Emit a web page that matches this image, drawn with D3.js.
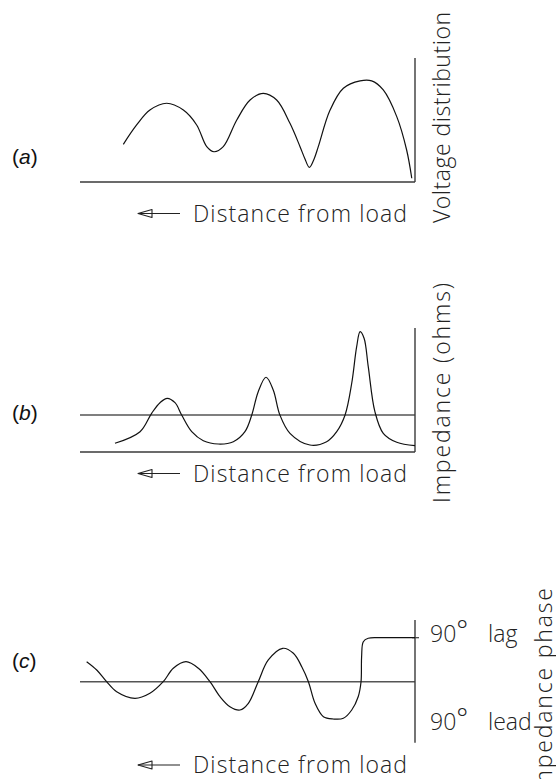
<!DOCTYPE html>
<html>
<head>
<meta charset="utf-8">
<script src="https://cdn.jsdelivr.net/npm/d3@7"></script>
<style>
  html, body { margin: 0; padding: 0; background: #fff; }
  svg { display: block; }
  .lbl { font-family: "Open Sans", "DejaVu Sans", sans-serif; font-weight: 300; fill: #222; }
  .tag { font-family: "Liberation Sans", Arial, sans-serif; fill: #111; }
</style>
</head>
<body>
<svg id="chart" width="556" height="779"></svg>
<script>
// Distance from the load, in wavelengths (load at 0, increasing to the left)
const distanceMax = 1.763;

// (a) voltage standing-wave magnitude (normalised)
const voltageDist = [0.017, 0.044, 0.096, 0.167, 0.228, 0.289, 0.377, 0.447, 0.509, 0.530, 0.556, 0.580, 0.605, 0.658, 0.728, 0.798, 0.868, 0.938, 1.009, 1.058, 1.096, 1.149, 1.219, 1.307, 1.395, 1.465, 1.535];
const voltageVal  = [0.030, 0.258, 0.527, 0.742, 0.815, 0.815, 0.756, 0.580, 0.285, 0.190, 0.118, 0.190, 0.285, 0.473, 0.661, 0.715, 0.661, 0.500, 0.285, 0.244, 0.285, 0.460, 0.580, 0.635, 0.580, 0.460, 0.304];

// (b) impedance magnitude, normalised to the characteristic impedance (reference = 1)
const impedanceDist = [0, 0.096, 0.167, 0.211, 0.246, 0.268, 0.289, 0.307, 0.333, 0.368, 0.412, 0.465, 0.553, 0.658, 0.711, 0.746, 0.784, 0.825, 0.859, 0.895, 0.956, 1.035, 1.114, 1.175, 1.228, 1.263, 1.304, 1.342, 1.386, 1.447, 1.579];
const impedanceVal  = [0.170, 0.262, 0.505, 1.089, 2.305, 3.073, 3.251, 2.846, 1.857, 1.000, 0.549, 0.278, 0.189, 0.505, 1.000, 1.676, 2.019, 1.630, 1.000, 0.549, 0.278, 0.216, 0.305, 0.549, 1.000, 1.332, 1.451, 1.332, 1.046, 0.549, 0.235];
const impedanceRef = 1;
const impedanceTop = 3.35;

// (c) impedance phase angle, degrees (+ = lag, − = lead)
const phaseDist = [0, 0.184, 0.246, 0.272, 0.281, 0.284, 0.299, 0.333, 0.377, 0.430, 0.482, 0.526, 0.561, 0.596, 0.640, 0.696, 0.772, 0.825, 0.877, 0.921, 0.974, 1.026, 1.079, 1.140, 1.205, 1.272, 1.325, 1.395, 1.474, 1.570, 1.623, 1.675, 1.728];
const phaseVal  = [90, 90, 88.8, 81.8, 51.1, 0, -30.7, -57.9, -74.9, -76.3, -71.6, -44.2, 0, 30.7, 58.1, 68.3, 44.4, 0, -44.2, -57.9, -51.1, -30.7, 0, 27.4, 40.9, 27.4, 0, -23.7, -34, -20.5, 0, 23.9, 40.9];
const phaseAxisExtent = [-125, 126];

const panelTags = ["a", "b", "c"];
const xTitle = "Distance from load";
const yTitles = ["Voltage distribution", "Impedance (ohms)", "Impedance phase"];
const phaseTicks = [{ deg: 90, text: "lag" }, { deg: -90, text: "lead" }];

const svg = d3.select("#chart");
const AXIS = "#3a3a3a";
const CURVE = "#111";

const x = d3.scaleLinear().domain([distanceMax, 0]).range([80, 415]);

const yV = d3.scaleLinear().domain([0, 1]).range([182, 58]);
const yZ = d3.scaleLinear().domain([0, impedanceTop]).range([452, 328]);
const yP = d3.scaleLinear().domain([-90, 90]).range([725.7, 637.7]);

const lineGen = ys => d3.line()
  .x(d => x(d[0]))
  .y(d => ys(d[1]))
  .curve(d3.curveCatmullRom.alpha(0.5));

function hline(y0, color, w) {
  svg.append("line")
    .attr("x1", x(distanceMax)).attr("x2", x(0))
    .attr("y1", y0).attr("y2", y0)
    .attr("stroke", color).attr("stroke-width", w);
}
function vline(xv, ya, yb) {
  svg.append("line")
    .attr("x1", xv).attr("x2", xv)
    .attr("y1", ya).attr("y2", yb)
    .attr("stroke", AXIS).attr("stroke-width", 1.4);
}
function curve(dist, vals, ys) {
  svg.append("path")
    .datum(d3.zip(dist, vals))
    .attr("d", lineGen(ys))
    .attr("fill", "none")
    .attr("stroke", CURVE)
    .attr("stroke-width", 1.2)
    .attr("stroke-linejoin", "round");
}
// "<— Distance from load" caption under each panel
function distanceCaption(baseline) {
  const ay = baseline - 8;
  svg.append("line")
    .attr("x1", 138).attr("x2", 180).attr("y1", ay).attr("y2", ay)
    .attr("stroke", "#222").attr("stroke-width", 1.2);
  svg.append("path")
    .attr("d", `M138,${ay} L152,${ay - 4} L152,${ay + 4} Z`)
    .attr("fill", "none").attr("stroke", "#222").attr("stroke-width", 1.1)
    .attr("stroke-linejoin", "round");
  svg.append("text").attr("class", "lbl")
    .attr("x", 193).attr("y", baseline)
    .attr("font-size", 23)
    .attr("textLength", 214).attr("lengthAdjust", "spacing")
    .text(xTitle);
}
function verticalTitle(txt, bx, startY, len) {
  svg.append("text").attr("class", "lbl")
    .attr("transform", `translate(${bx},${startY}) rotate(-90)`)
    .attr("font-size", 23)
    .attr("textLength", len).attr("lengthAdjust", "spacing")
    .text(txt);
}
function panelTag(letter, cy) {
  const t = svg.append("text").attr("class", "tag")
    .attr("x", 12).attr("y", cy + 7).attr("font-size", 21);
  t.append("tspan").text("(");
  t.append("tspan").attr("font-style", "italic").text(letter);
  t.append("tspan").text(")");
}

// ---- (a) voltage distribution ----
hline(yV(0), AXIS, 1.4);
vline(x(0), yV(1), yV(0));
curve(voltageDist, voltageVal, yV);
distanceCaption(221.5);
verticalTitle(yTitles[0], 449.5, 223, 211);
panelTag(panelTags[0], 157);

// ---- (b) impedance magnitude ----
hline(yZ(0), AXIS, 1.4);
hline(yZ(impedanceRef), "#555", 1.6);
vline(x(0), yZ(impedanceTop), yZ(0));
curve(impedanceDist, impedanceVal, yZ);
distanceCaption(481.5);
verticalTitle(yTitles[1], 450, 503, 220);
panelTag(panelTags[1], 413);

// ---- (c) impedance phase ----
hline(yP(0), "#555", 1.6);
vline(x(0), yP(phaseAxisExtent[1]), yP(phaseAxisExtent[0]));
svg.append("line")
  .attr("x1", x(0) - 3).attr("x2", x(0) + 4)
  .attr("y1", yP(90)).attr("y2", yP(90))
  .attr("stroke", AXIS).attr("stroke-width", 1.2);
curve(phaseDist, phaseVal, yP);
phaseTicks.forEach(t => {
  const g = svg.append("text").attr("class", "lbl")
    .attr("x", 430).attr("y", yP(t.deg) + 4).attr("font-size", 23);
  g.append("tspan").text("90");
  g.append("tspan").attr("font-size", 28).attr("dy", -2).text("°");
  g.append("tspan").attr("x", 488).attr("dy", 2).text(t.text);
});
distanceCaption(773);
verticalTitle(yTitles[2], 552, 798, 210);
panelTag(panelTags[2], 661);
</script>
</body>
</html>
